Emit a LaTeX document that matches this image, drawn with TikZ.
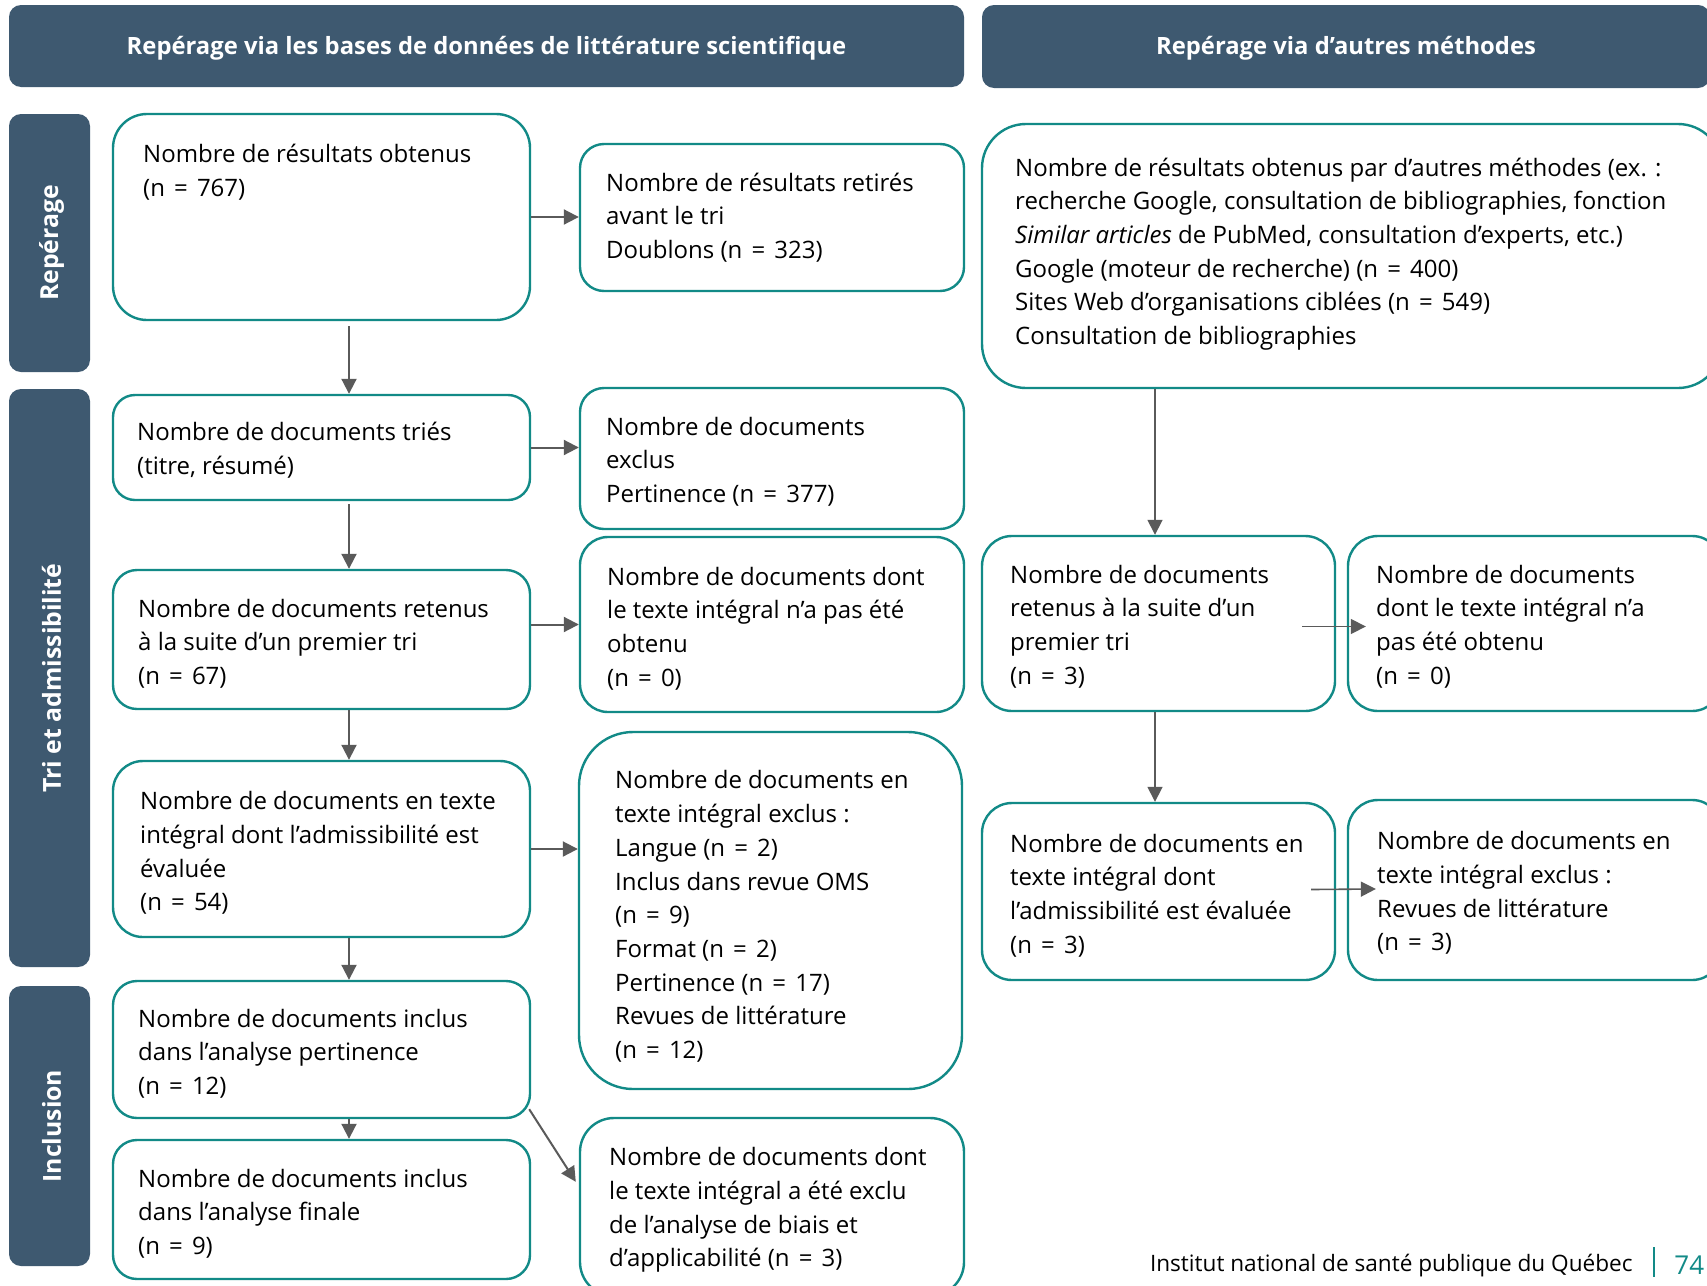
\documentclass[tikz,border=0pt]{standalone}
\usepackage{fontspec}
\setmainfont{Open Sans}
\usetikzlibrary{arrows.meta,fit,calc}
\definecolor{hdr}{RGB}{62,89,112}
\definecolor{tl}{RGB}{18,138,135}
\definecolor{agray}{RGB}{90,90,90}
\newcommand\bodyf{\fontsize{12}{16.85}\selectfont}
\newcommand\hdrf{\fontsize{11.9}{14}\selectfont\bfseries}
\newcommand\sidef{\fontsize{12.4}{14}\selectfont\bfseries}
\newcommand\footf{\fontsize{11.3}{14}\selectfont}
\newcommand\nn[1]{(n\hspace{0.38em}=\hspace{0.38em}#1)}
\begin{document}
\begin{tikzpicture}[x=0.5pt,y=-0.5pt,
  hdrbox/.style={fill=hdr, draw=none, inner sep=0pt, rounded corners=6pt},
  box/.style={draw=tl, line width=1.2pt, fill=white, inner sep=0pt},
  txt/.style={inner sep=0pt, align=left, font=\bodyf, anchor=west, text=black},
  htxt/.style={inner sep=0pt, text=white, font=\hdrf},
  stxt/.style={inner sep=0pt, text=white, font=\sidef, rotate=90},
  arr/.style={draw=agray, line width=1pt, -{Triangle[length=7.5pt,width=7.5pt]}},
  arrR/.style={arr, line width=0.8pt}
]
\useasboundingbox (0,0) rectangle (1707,1285);
\clip (0,0) rectangle (1707,1285);
\fill[white] (0,0) rectangle (1707,1285);

% headers
\node[hdrbox, fit={(9,5) (964,87)}] (hL) {};
\node[htxt] (hLt) at ($(hL.center)+(0,2)$) {Repérage via les bases de données de littérature scientifique};
\node[hdrbox, fit={(982,5) (1710,88)}] (hR) {};
\node[htxt] (hRt) at ($(hR.center)+(0,2)$) {Repérage via d’autres méthodes};

% side labels
\node[hdrbox, fit={(9,114) (90,372)}] (sRep) {};
\node[stxt] (sRept) at ($(sRep.center)+(2,0)$) {Repérage};
\node[hdrbox, fit={(9,389) (90,967)}] (sTri) {};
\node[stxt] (sTrit) at ($(sTri.center)+(2,0)$) {Tri et admissibilité};
\node[hdrbox, fit={(9,986) (90,1266)}] (sInc) {};
\node[stxt] (sInct) at ($(sInc.center)+(2,0)$) {Inclusion};

% left column
\node[box, rounded corners=17pt, fit={(113,114) (530,320)}] (b1) {};
\node[txt, anchor=north west] (t1) at ($(b1.north west)+(31,31)$) {Nombre de résultats obtenus\\\nn{767}};
\node[box, rounded corners=11pt, fit={(113,395) (530,500)}] (b2) {};
\node[txt] (t2) at ($(b2.west)+(25,3)$) {Nombre de documents triés\\(titre, résumé)};
\node[box, rounded corners=12pt, fit={(113,570) (530,709)}] (b3) {};
\node[txt] (t3) at ($(b3.west)+(26,4)$) {Nombre de documents retenus\\à la suite d’un premier tri\\\nn{67}};
\node[box, rounded corners=15pt, fit={(113,761) (530,937)}] (b4) {};
\node[txt] (t4) at ($(b4.west)+(28,4)$) {Nombre de documents en texte\\intégral dont l’admissibilité est\\évaluée\\\nn{54}};
\node[box, rounded corners=12pt, fit={(113,981) (530,1118)}] (b5) {};
\node[txt] (t5) at ($(b5.west)+(26,4)$) {Nombre de documents inclus\\dans l’analyse pertinence\\\nn{12}};
\node[box, rounded corners=12pt, fit={(113,1140) (530,1279)}] (b6) {};
\node[txt] (t6) at ($(b6.west)+(26,4)$) {Nombre de documents inclus\\dans l’analyse finale\\\nn{9}};

% middle column
\node[box, rounded corners=12pt, fit={(580,144) (964,291)}] (m1) {};
\node[txt] (u1) at ($(m1.west)+(27,0)$) {Nombre de résultats retirés\\avant le tri\\Doublons \nn{323}};
\node[box, rounded corners=12pt, fit={(580,388) (964,529)}] (m2) {};
\node[txt] (u2) at ($(m2.west)+(27,3)$) {Nombre de documents\\exclus\\Pertinence \nn{377}};
\node[box, rounded corners=14pt, fit={(580,537) (964,712)}] (m3) {};
\node[txt] (u3) at ($(m3.west)+(28,4)$) {Nombre de documents dont\\le texte intégral n’a pas été\\obtenu\\\nn{0}};
\node[box, rounded corners=27pt, fit={(579,732) (962,1089)}] (m4) {};
\node[txt] (u4) at ($(m4.west)+(37,6)$) {Nombre de documents en\\texte intégral exclus :\\Langue \nn{2}\\Inclus dans revue OMS\\\nn{9}\\Format \nn{2}\\Pertinence \nn{17}\\Revues de littérature\\\nn{12}};
\node[box, rounded corners=17pt, fit={(580,1118) (964,1296)}] (m5) {};
\node[txt] (u5) at ($(m5.west)+(30,3)$) {Nombre de documents dont\\le texte intégral a été exclu\\de l’analyse de biais et\\d’applicabilité \nn{3}};

% right part
\node[box, rounded corners=22pt, fit={(982,124) (1722,388)}] (big) {};
\node[txt] (v0) at ($(big.west)+(34,-2)$) {Nombre de résultats obtenus par d’autres méthodes (ex. :\\recherche Google, consultation de bibliographies, fonction\\\emph{Similar articles} de PubMed, consultation d’experts, etc.)\\Google (moteur de recherche) \nn{400}\\Sites Web d’organisations ciblées \nn{549}\\Consultation de bibliographies};
\node[box, rounded corners=15pt, fit={(982,536) (1335,711)}] (r1) {};
\node[txt] (v1) at ($(r1.west)+(29,3)$) {Nombre de documents\\retenus à la suite d’un\\premier tri\\\nn{3}};
\node[box, rounded corners=15pt, fit={(1348,536) (1722,711)}] (r2) {};
\node[txt] (v2) at ($(r2.west)+(29,3)$) {Nombre de documents\\dont le texte intégral n’a\\pas été obtenu\\\nn{0}};
\node[box, rounded corners=15pt, fit={(982,803) (1335,980)}] (r3) {};
\node[txt] (v3) at ($(r3.west)+(29,4)$) {Nombre de documents en\\texte intégral dont\\l’admissibilité est évaluée\\\nn{3}};
\node[box, rounded corners=15pt, fit={(1348,800) (1722,980)}] (r4) {};
\node[txt] (v4) at ($(r4.west)+(30,3)$) {Nombre de documents en\\texte intégral exclus :\\Revues de littérature\\\nn{3}};

% connectors
\coordinate (axL) at (349,0);
\coordinate (axR) at (1155,0);
\draw[arr, shorten <=2.5pt] (b1.south -| axL) -- (b2.north -| axL);
\draw[arr, shorten <=1.5pt] (b2.south -| axL) -- (b3.north -| axL);
\draw[arr] (b3.south -| axL) -- (b4.north -| axL);
\draw[arr] (b4.south -| axL) -- (b5.north -| axL);
\draw[arr] (b5.south -| axL) -- (b6.north -| axL);
\draw[arr] (b1.east) -- (b1.east -| m1.west);
\draw[arr] (b2.east) -- (b2.east -| m2.west);
\draw[arr] (m3.west -| b3.east) -- (m3.west);
\draw[arr] (b4.east) -- (b4.east -| m4.west);
\draw[arr] ($(b5.south east)+(-2,-10)$) -- ($(m5.north west)+(-3,65)$);

\draw[arrR] (big.south -| axR) -- (r1.north -| axR);
\draw[arrR] (r1.south -| axR) -- (r3.north -| axR);
\draw[arrR] ($(r1.east)+(-34,3)$) -- ($(r2.west)+(19,3)$);
\draw[arrR] ($(r3.east)+(-25,-2)$) -- ($(r4.west)+(29,-1)$);

% footer
\node[inner sep=0pt, anchor=east, font=\footf] (foot) at (1633,1266) {Institut national de santé publique du Québec};
\node[inner sep=0pt, anchor=west, font=\fontsize{13}{15}\selectfont, text=tl] (pg) at (1674,1265) {74};
\coordinate (barT) at (1654,1247);
\coordinate (barB) at (1654,1277);
\draw[tl, line width=0.6pt] (barT) -- (barB);
\end{tikzpicture}
\end{document}
